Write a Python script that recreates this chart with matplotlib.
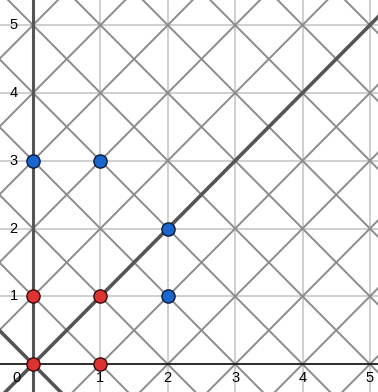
import matplotlib
matplotlib.use("Agg")
import matplotlib.pyplot as plt

# points
blue_x = [0, 1, 2, 2]
blue_y = [3, 3, 2, 1]
red_x = [0, 1, 0, 1]
red_y = [0, 0, 1, 1]
ticks = [1, 2, 3, 4, 5]

plt.rcParams['font.family'] = ['Liberation Sans', 'DejaVu Sans']
fig = plt.figure(figsize=(3.78, 3.92), dpi=100)
ax = fig.add_axes([0, 0, 1, 1])
ax.set_xlim(-0.49, 5.12)
ax.set_ylim(-0.41, 5.37)
ax.axis('off')

# light grid
for v in range(-1, 7):
    ax.axvline(v, color='#cccccc', lw=1.3, zorder=1)
    ax.axhline(v, color='#cccccc', lw=1.3, zorder=1)

# diagonal lattice
for k in range(-8, 14):
    ax.axline((0, k), slope=1, color='#8c8c8c', lw=1.4, zorder=2)
    ax.axline((0, k), slope=-1, color='#8c8c8c', lw=1.4, zorder=2)

# axes / highlighted lines
ax.axvline(0, color='#555555', lw=2.2, zorder=3)
ax.axhline(0, color='black', lw=1.1, zorder=3)
ax.axline((0, 0), slope=1, color='#555555', lw=2.6, zorder=3)
ax.axline((0, 0), slope=-1, color='#555555', lw=2.6, zorder=3)

ax.plot(red_x, red_y, 'o', ms=9.5, mfc='#dd3333', mec='#3a0a0a', mew=1, zorder=5)
ax.plot(blue_x, blue_y, 'o', ms=9.5, mfc='#1a66cc', mec='#0a1a3a', mew=1, zorder=5)

# tick labels
for t in ticks:
    ax.text(t, -0.21, str(t), ha='center', va='center', fontsize=10.5, zorder=6)
    ax.text(-0.23, t, str(t), ha='right', va='center', fontsize=10.5, zorder=6)
ax.text(-0.25, -0.21, '0', ha='center', va='center', fontsize=10.5, zorder=6)

fig.savefig('out.png', dpi=100)
